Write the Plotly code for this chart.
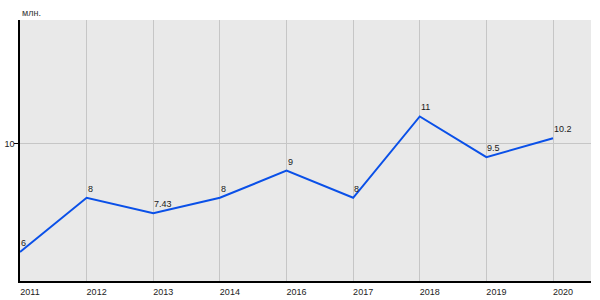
import plotly.graph_objects as go

years = ["2011", "2012", "2013", "2014", "2016", "2017", "2018", "2019", "2020"]
values = [6, 8, 7.43, 8, 9, 8, 11, 9.5, 10.2]
labels = ["6", "8", "7.43", "8", "9", "8", "11", "9.5", "10.2"]

xs = list(range(len(years)))

fig = go.Figure()
fig.add_trace(go.Scatter(
    x=xs, y=values, mode="lines",
    line=dict(color="#0a50e8", width=2),
    cliponaxis=False, hoverinfo="skip",
))

annots = [dict(
    x=x, y=v, text=t, xref="x", yref="y", xanchor="left", yanchor="bottom",
    xshift=-1, yshift=2, showarrow=False,
    font=dict(family="Liberation Sans, Arial", size=9, color="#1a1a1a"),
) for x, v, t in zip(xs, values, labels)]

annots.append(dict(
    text="млн.", xref="paper", yref="paper", x=0, y=1,
    xanchor="left", yanchor="bottom", yshift=0, showarrow=False,
    font=dict(size=9, color="#333333"),
))

fig.update_layout(
    width=600, height=300,
    margin=dict(l=20, r=9, t=20, b=19),
    paper_bgcolor="white", plot_bgcolor="#e9e9e9",
    showlegend=False,
    font=dict(family="Liberation Sans, Arial", size=9, color="#333333"),
    xaxis=dict(
        range=[0, 8.57], tickmode="array", tickvals=xs, ticktext=years,
        showgrid=True, gridcolor="#c6c6c6", gridwidth=1,
        showline=True, linecolor="black", linewidth=1.5,
        ticks="", ticklabelshift=10, ticklabelstandoff=1,
        tickfont=dict(size=9, color="#222222"), zeroline=False,
        fixedrange=True, automargin=False,
    ),
    yaxis=dict(
        range=[4.93, 14.56], tickmode="array", tickvals=[10], ticktext=["10"],
        showgrid=True, gridcolor="#c6c6c6", gridwidth=1,
        showline=True, linecolor="black", linewidth=1.5,
        ticks="outside", ticklen=4, tickcolor="black",
        ticklabelstandoff=-2,
        tickfont=dict(size=9, color="#222222"), zeroline=False,
        fixedrange=True, automargin=False,
    ),
    annotations=annots,
)

fig.write_html("out.html", config={"displayModeBar": False})
